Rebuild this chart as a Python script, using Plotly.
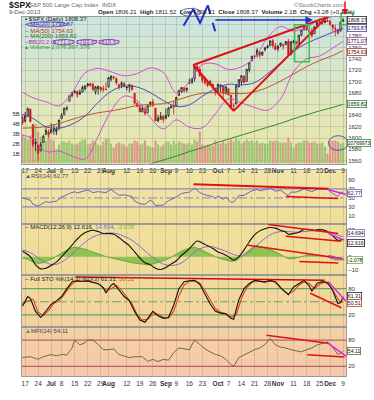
import pandas as pd
import plotly.graph_objects as go

FONT = "Liberation Sans, Arial, sans-serif"

# ---------------- data ----------------
holidays = ["2013-07-04", "2013-09-02", "2013-11-28"]
dates = [d.strftime("%Y-%m-%d") for d in pd.bdate_range("2013-06-14", "2013-12-09")
         if d.strftime("%Y-%m-%d") not in holidays]
xi = list(range(len(dates)))
prev_close = 1636.36

opens = [1636, 1630, 1639, 1651, 1624, 1590, 1588, 1577, 1592, 1606,
         1611, 1609, 1614, 1611, 1618, 1634, 1642, 1652, 1665, 1675,
         1680, 1682, 1678, 1681, 1687, 1693, 1696, 1695, 1682, 1687,
         1690, 1687, 1686, 1690, 1704, 1708, 1705, 1694, 1693, 1696,
         1689, 1690, 1693, 1679, 1661, 1655, 1646, 1651, 1645, 1659,
         1664, 1653, 1630, 1633, 1638, 1635, 1640, 1653, 1657, 1657,
         1675, 1682, 1689, 1685, 1697, 1697, 1705, 1727, 1722, 1711,
         1703, 1698, 1694, 1695, 1688, 1682, 1691, 1692, 1679, 1687,
         1676, 1657, 1660, 1691, 1699, 1709, 1700, 1720, 1737, 1745,
         1747, 1752, 1747, 1756, 1760, 1763, 1772, 1763, 1758, 1764,
         1765, 1765, 1771, 1748, 1769, 1770, 1764, 1782, 1791, 1798,
         1791, 1789, 1784, 1797, 1806, 1803, 1804, 1808, 1806, 1800,
         1794, 1792, 1789, 1806.21]
highs = [1641, 1646, 1654, 1652, 1624, 1599, 1588, 1593, 1606, 1620,
         1615, 1626, 1624, 1620, 1632, 1644, 1654, 1657, 1676, 1681,
         1685, 1684, 1686, 1693, 1693, 1697, 1698, 1698, 1692, 1692,
         1690, 1693, 1698, 1707, 1710, 1710, 1707, 1696, 1700, 1699,
         1692, 1696, 1695, 1679, 1664, 1659, 1658, 1656, 1659, 1664,
         1669, 1653, 1641, 1646, 1641, 1652, 1655, 1659, 1665, 1673,
         1685, 1690, 1690, 1689, 1705, 1706, 1729, 1730, 1725, 1711,
         1708, 1701, 1703, 1695, 1688, 1696, 1694, 1693, 1691, 1687,
         1676, 1662, 1693, 1704, 1711, 1711, 1722, 1734, 1745, 1747,
         1759, 1752, 1753, 1760, 1765, 1772, 1775, 1768, 1765, 1768,
         1767, 1771, 1775, 1771, 1773, 1772, 1782, 1791, 1799, 1803,
         1795, 1795, 1798, 1805, 1808, 1808, 1810, 1814, 1809, 1800,
         1800, 1792, 1806, 1811.52]
lows = [1623, 1627, 1639, 1628, 1584, 1577, 1560, 1577, 1592, 1606,
        1601, 1609, 1606, 1605, 1614, 1634, 1640, 1648, 1665, 1672,
        1679, 1671, 1676, 1681, 1684, 1690, 1691, 1683, 1677, 1677,
        1681, 1681, 1684, 1690, 1700, 1703, 1694, 1685, 1688, 1689,
        1684, 1681, 1684, 1659, 1655, 1646, 1646, 1640, 1645, 1655,
        1656, 1630, 1628, 1633, 1627, 1633, 1637, 1653, 1642, 1657,
        1675, 1680, 1680, 1681, 1697, 1697, 1700, 1721, 1708, 1697,
        1694, 1690, 1694, 1687, 1675, 1682, 1680, 1670, 1677, 1675,
        1655, 1647, 1660, 1689, 1693, 1697, 1700, 1716, 1735, 1740,
        1743, 1741, 1745, 1753, 1758, 1763, 1758, 1755, 1753, 1761,
        1756, 1765, 1747, 1746, 1767, 1764, 1760, 1780, 1791, 1789,
        1784, 1777, 1784, 1795, 1801, 1800, 1803, 1805, 1798, 1788,
        1780, 1783, 1789, 1806.21]
closes = [1626.73, 1639.04, 1651.81, 1628.93, 1588.19, 1592.43, 1573.09, 1588.03, 1603.26, 1613.20,
          1606.28, 1614.96, 1614.08, 1615.41, 1631.89, 1640.46, 1652.32, 1652.62, 1675.02, 1680.19,
          1682.50, 1676.26, 1680.91, 1689.37, 1692.09, 1695.53, 1692.39, 1685.94, 1690.25, 1691.65,
          1685.33, 1685.96, 1685.73, 1706.87, 1709.67, 1707.14, 1697.37, 1690.91, 1697.48, 1691.42,
          1689.47, 1694.16, 1685.39, 1661.32, 1655.83, 1646.06, 1652.35, 1642.80, 1656.96, 1663.50,
          1656.78, 1630.48, 1634.96, 1638.17, 1632.97, 1639.77, 1653.08, 1655.08, 1655.17, 1671.71,
          1683.99, 1689.13, 1683.42, 1687.99, 1697.60, 1704.76, 1725.52, 1722.34, 1709.91, 1701.84,
          1697.42, 1692.77, 1698.67, 1691.75, 1681.55, 1695.00, 1693.87, 1678.66, 1690.50, 1676.12,
          1655.45, 1656.40, 1692.56, 1703.20, 1710.14, 1698.06, 1721.54, 1733.15, 1744.50, 1744.66,
          1754.67, 1746.38, 1752.07, 1759.77, 1762.11, 1771.95, 1763.31, 1756.54, 1761.64, 1767.93,
          1762.97, 1770.49, 1747.15, 1770.61, 1771.89, 1767.69, 1782.00, 1790.62, 1798.18, 1791.53,
          1787.87, 1781.37, 1795.85, 1804.76, 1802.48, 1802.75, 1807.23, 1805.81, 1800.90, 1795.15,
          1792.81, 1785.03, 1805.09, 1808.37]
volumes_b = [2.9, 2.6, 2.4, 2.8, 3.6, 4.0, 3.2, 2.7, 2.4, 2.3,
             3.0, 2.4, 2.3, 1.3, 1.9, 2.2, 2.2, 2.1, 2.3, 2.0,
             1.9, 2.0, 2.2, 2.4, 2.4, 1.9, 2.0, 2.3, 2.1, 1.9,
             1.8, 2.2, 2.5, 2.5, 2.0, 1.6, 2.0, 2.1, 2.0, 1.9,
             1.7, 2.0, 2.0, 2.3, 2.2, 1.9, 2.0, 2.3, 1.8, 1.7,
             1.6, 2.3, 1.9, 1.7, 1.9, 2.2, 2.2, 1.9, 2.3, 2.0,
             2.2, 2.1, 2.0, 2.0, 2.1, 1.9, 2.4, 2.2, 3.2, 1.9,
             1.8, 1.9, 1.8, 1.8, 2.3, 2.0, 2.0, 2.2, 2.0, 2.2,
             2.4, 2.2, 2.5, 2.3, 2.0, 2.2, 2.4, 2.2, 2.3, 2.1,
             2.3, 2.0, 2.1, 2.0, 2.0, 2.3, 2.2, 2.3, 2.2, 2.1,
             2.1, 2.1, 2.6, 2.1, 1.6, 2.0, 2.1, 2.1, 2.3, 2.3,
             2.1, 2.1, 2.2, 2.0, 2.0, 2.1, 1.7, 1.0, 2.2, 2.3,
             2.3, 2.2, 2.0, 2.077]

ma_idx = [0, 4, 9, 14, 19, 24, 29, 34, 39, 44, 49, 54, 59, 64, 69, 74, 79, 84, 89, 94, 99, 104, 109, 114, 119, 123]
ma20 = [1642, 1634.6, 1619.9, 1617.4, 1624.4, 1638.7, 1663.0, 1682.6, 1691.8, 1690.0, 1680.3, 1666.3, 1655.8,
        1658.6, 1673.8, 1687.2, 1695.1, 1693.9, 1697.8, 1713.5, 1732.8, 1753.1, 1767.5, 1777.4, 1786.9, 1793.87]
ma50 = [1617.5, 1618.1, 1620.3, 1625.7, 1632.9, 1639.6, 1644.6, 1647.9, 1652.3, 1657.4, 1659.4, 1660.6, 1666.7,
        1673.9, 1679.2, 1680.0, 1679.5, 1678.4, 1681.6, 1689.4, 1700.6, 1713.1, 1726.2, 1736.9, 1745.8, 1754.63]
ma200 = [1485, 1491, 1498, 1505, 1512, 1519, 1526, 1533, 1540, 1547, 1554, 1561, 1568,
         1576, 1583, 1591, 1598, 1605, 1612, 1619, 1626, 1634, 1641, 1648, 1654, 1659.82]
bb_upper = [1681, 1671, 1664, 1657, 1680, 1715, 1723, 1717, 1710, 1714, 1724, 1716, 1680,
            1699, 1730, 1731, 1721, 1726, 1742, 1777, 1797, 1789, 1796, 1809, 1815, 1816.67]
bb_lower = [1605, 1599, 1576, 1577, 1568, 1563, 1603, 1648, 1674, 1666, 1636, 1616, 1632,
            1619, 1618, 1643, 1669, 1662, 1654, 1649, 1669, 1717, 1740, 1745, 1759, 1771.07]

rsi_idx = [0, 3, 4, 6, 9, 10, 13, 15, 18, 20, 21, 24, 25, 27, 29, 32, 34, 36, 37, 39, 42, 43, 45, 47, 49, 50, 51,
           54, 56, 59, 61, 64, 66, 68, 70, 73, 74, 75, 77, 78, 80, 81, 83, 85, 88, 90, 91, 94, 95, 97, 99, 102,
           103, 105, 108, 111, 113, 116, 117, 119, 121, 122, 123]
rsi_val = [50, 45, 36, 32, 42, 40, 43, 52, 60, 64, 61, 67, 68, 62, 64, 62, 69, 60, 56, 57, 53, 43, 37, 36, 45, 42, 33,
           34, 44, 52, 60, 63, 72, 62, 57, 53, 49, 54, 47, 52, 40, 41, 55, 56, 66, 69, 66, 70, 72, 65, 67, 55,
           63, 63, 70, 64, 69, 70, 69, 60, 53, 62, 62.77]

macd_idx = [0, 3, 5, 7, 9, 11, 13, 15, 17, 19, 21, 23, 25, 27, 29, 31, 33, 35, 37, 39, 41, 43, 45, 47, 49, 51, 53,
            55, 57, 59, 61, 63, 65, 67, 69, 71, 73, 75, 77, 79, 81, 83, 85, 87, 89, 91, 93, 95, 97, 99, 101, 102,
            104, 106, 108, 110, 112, 114, 116, 118, 120, 121, 122, 123]
macd_val = [4, 0, -6, -9, -8.5, -6.5, -4, 0, 4, 8.5, 13, 16.5, 18.5, 19.5, 18.5, 17, 17, 16.5, 14, 11, 8, 3.5, -1,
            -4.5, -6, -8.5, -9.5, -8, -5.5, -3, 1, 4, 8, 11.5, 10, 8, 6, 3.5, 2, 0, -2.5, 0, 5, 11, 16, 19, 20.5,
            21.5, 21, 19.5, 18, 16.5, 17, 18, 20, 20, 19.5, 20, 19.5, 17, 13.5, 12, 12.3, 12.616]
sig_idx = [0, 3, 6, 9, 12, 15, 18, 21, 24, 27, 30, 33, 36, 39, 42, 45, 48, 51, 54, 57, 60, 63, 66, 69, 72, 75, 78,
           81, 84, 87, 90, 93, 96, 99, 102, 105, 108, 111, 114, 117, 120, 123]
sig_val = [5, 3, -1, -4.5, -6, -4, 0, 5.5, 10.5, 14.5, 16.5, 17.5, 17, 15, 12, 7.5, 2.5, -2, -5.5, -6.5, -5.5, -2,
           3.5, 6.5, 7.5, 6, 4, 1.5, 0.5, 3.5, 8.5, 13.5, 17, 18.5, 18.5, 18, 18.5, 19, 19, 18.5, 16.5, 14.694]
hist_idx = [0, 2, 4, 6, 8, 10, 12, 14, 16, 18, 20, 22, 24, 26, 28, 30, 32, 34, 36, 38, 40, 42, 44, 46, 48, 50, 52,
            54, 56, 58, 60, 62, 64, 66, 68, 70, 72, 74, 76, 78, 80, 82, 84, 86, 88, 90, 92, 94, 96, 98, 100, 102,
            104, 106, 108, 110, 112, 114, 116, 118, 120, 122, 123]
hist_val = [-1, -2, -4, -5, -4.5, -3, -1, 1.5, 4, 6, 7, 6.5, 5.5, 4, 3, 1.5, 0, -1, -1.5, -3, -3.5, -4.5, -5, -5.5,
            -6, -5.5, -4.5, -3, -1.5, 1, 3, 5, 6, 7, 5.5, 3.5, 1.5, 0, -1.5, -2.5, -3.5, -3, 0, 3.5, 6.5, 8, 7,
            5.5, 4.5, 2.5, 0.5, -1.5, -1.5, -0.5, 1, 1.5, 0.5, 1, 0.5, -1, -2.5, -2.5, -2.078]

k_idx = [0, 2, 3, 5, 7, 9, 11, 13, 15, 17, 19, 21, 23, 25, 27, 29, 31, 32, 34, 35, 37, 39, 41, 43, 45, 47, 49, 50,
         52, 54, 56, 58, 60, 62, 64, 66, 68, 70, 72, 74, 76, 78, 80, 81, 83, 85, 87, 89, 91, 93, 95, 97, 99, 101,
         102, 104, 106, 108, 110, 111, 113, 115, 117, 119, 121, 122, 123]
k_val = [40, 62, 58, 28, 14, 28, 44, 52, 62, 80, 96, 98, 97, 98, 94, 92, 82, 70, 88, 92, 76, 62, 52, 28, 8, 3, 20, 28,
         18, 12, 14, 42, 80, 96, 98, 99, 90, 66, 45, 28, 24, 22, 12, 10, 55, 80, 92, 99, 97, 95, 99, 96, 82, 70,
         66, 84, 92, 99, 86, 74, 92, 96, 94, 76, 46, 48, 61.31]
d_idx = [0, 2, 4, 6, 8, 10, 12, 14, 16, 18, 20, 22, 24, 26, 28, 30, 32, 34, 36, 38, 40, 42, 44, 46, 48, 50, 52,
         54, 56, 58, 60, 62, 64, 66, 68, 70, 72, 74, 76, 78, 80, 82, 84, 86, 88, 90, 92, 94, 96, 98, 100, 102,
         104, 106, 108, 110, 112, 114, 116, 118, 120, 122, 123]
d_val = [45, 52, 56, 26, 18, 30, 46, 52, 66, 84, 96, 97, 97, 96, 93, 88, 76, 80, 88, 76, 60, 46, 20, 8, 10, 22, 22,
         14, 13, 28, 64, 88, 97, 98, 93, 76, 54, 34, 26, 23, 15, 20, 58, 82, 94, 98, 96, 96, 97, 90, 76, 68,
         74, 88, 96, 92, 80, 90, 95, 86, 66, 48, 50.51]

mfi_idx = [0, 3, 6, 8, 11, 13, 15, 17, 19, 20, 22, 24, 25, 27, 29, 31, 33, 35, 37, 39, 41, 43, 46, 48, 50, 52, 54,
           56, 58, 60, 62, 64, 66, 68, 70, 72, 74, 76, 78, 80, 81, 83, 85, 87, 89, 91, 93, 95, 97, 99, 101, 103,
           105, 107, 109, 111, 113, 115, 117, 119, 121, 123]
mfi_val = [40, 42, 36, 42, 47, 44, 47, 46, 62, 80, 69, 74, 80, 80, 70, 58, 58, 60, 47, 44, 40, 42, 42, 31, 36, 31, 36,
           34, 51, 62, 60, 58, 80, 69, 60, 53, 47, 44, 36, 24, 20, 40, 46, 53, 58, 62, 70, 84, 69, 64, 62, 58,
           55, 53, 58, 62, 69, 72, 76, 64, 47, 54.11]

tick_dates = ["2013-06-17", "2013-06-24", "2013-07-01", "2013-07-08", "2013-07-15", "2013-07-22", "2013-07-29",
              "2013-08-01", "2013-08-12", "2013-08-19", "2013-08-26", "2013-09-03", "2013-09-09", "2013-09-16",
              "2013-09-23", "2013-10-01", "2013-10-07", "2013-10-14", "2013-10-21", "2013-10-28", "2013-11-01",
              "2013-11-11", "2013-11-18", "2013-11-25", "2013-12-02", "2013-12-09"]
tick_text = ["17", "24", "<b>Jul</b>", "8", "15", "22", "29", "<b>Aug</b>", "12", "19", "26", "<b>Sep</b>", "9",
             "16", "23", "<b>Oct</b>", "7", "14", "21", "28", "<b>Nov</b>", "11", "18", "25", "<b>Dec</b>", "9"]

price_ticks = [1560, 1580, 1600, 1620, 1640, 1660, 1680, 1700, 1720, 1740, 1760, 1780, 1800]
price_tick_text = ["1560", "1580", "1600", "1620", "1640", "", "1680", "1700", "1720", "1740", "1760", "1780", ""]

# hand-drawn trend lines (x = bar number, y = panel value)
trend_lines = [
    ("x", "y2", 65.5, 1729, 119.5, 1818, "#e01010", 2),
    ("x", "y2", 65.5, 1729, 81, 1648, "#e01010", 2),
    ("x", "y2", 81, 1648, 118.5, 1822, "#e01010", 2),
    ("x2", "y3", 65.6, 80.7, 117.4, 70.5, "#e01010", 2),
    ("x2", "y3", 101, 53.2, 121.1, 48.9, "#e01010", 1.5),
    ("x2", "y3", 117.4, 68.4, 124.1, 57.6, "#e020e0", 1.5),
    ("x3", "y4", 94.3, 23.6, 121.1, 17.1, "#e01010", 1.5),
    ("x3", "y4", 101, 15, 122.3, 11.4, "#e01010", 1.5),
    ("x3", "y4", 86.1, 8.6, 122.3, -1.4, "#e01010", 1.5),
    ("x3", "y4", 106.2, -3.6, 121.1, -4.6, "#e01010", 1.5),
    ("x3", "y4", 117.4, 17.1, 123.4, 12.2, "#e020e0", 1.5),
    ("x3", "y4", 117.4, 0.9, 123.4, -2.4, "#e020e0", 1.5),
    ("x4", "y5", 20.3, 106.7, 115.9, 99.3, "#c01010", 1.5),
    ("x4", "y5", 110.4, 69.6, 122.3, 36.2, "#e01010", 1.5),
    ("x4", "y5", 117.3, 95.6, 124.1, 51.1, "#e020e0", 1.5),
    ("x5", "y6", 93.6, 91.1, 117.3, 72.7, "#e01010", 1.5),
    ("x5", "y6", 109.2, 46.7, 123.5, 41.6, "#e01010", 1.5),
    ("x5", "y6", 117.3, 72.7, 124.1, 43, "#e020e0", 1.5),
]

# ---------------- figure ----------------
W, H = 374, 400
ML, MR, MT, MB = 17, 24, 17, 13
PW, PH = W - ML - MR, H - MT - MB


def px(x):
    return (x - ML) / PW


def py(y):
    return (H - MB - y) / PH


dom_price = [py(168), 1]
dom_rsi = [py(230), py(175)]
dom_macd = [py(283), py(230)]
dom_sto = [py(337), py(283)]
dom_mfi = [0, py(337)]

tick_idx = [dates.index(d) for d in tick_dates]

fig = go.Figure()

RED_V, GREEN_V = "#d98f86", "#93c06e"
vol_colors = []
pc = prev_close
for c in closes:
    vol_colors.append(GREEN_V if c >= pc else RED_V)
    pc = c

fig.add_trace(go.Bar(x=xi, y=volumes_b, marker=dict(color=vol_colors, line=dict(width=0)), width=0.8,
                     opacity=0.9, xaxis="x", yaxis="y", hoverinfo="skip"))


def line(xs, ys, color, xa, ya, width=1, shape="linear", dash="solid"):
    fig.add_trace(go.Scatter(x=xs, y=ys, mode="lines", xaxis=xa, yaxis=ya, hoverinfo="skip",
                             line=dict(color=color, width=width, shape=shape, dash=dash)))


line(ma_idx, ma200, "#2f8a2f", "x", "y2", 1, "spline")
line(ma_idx, ma50, "#c0532e", "x", "y2", 1, "spline")
line(ma_idx, bb_upper, "#d24fd2", "x", "y2", 1, "spline")
line(ma_idx, bb_lower, "#d24fd2", "x", "y2", 1, "spline")
line(ma_idx, ma20, "#5046c0", "x", "y2", 1, "spline")

fig.add_trace(go.Candlestick(x=xi, open=opens, high=highs, low=lows, close=closes, xaxis="x", yaxis="y2",
                             whiskerwidth=0, hoverinfo="skip",
                             increasing=dict(line=dict(color="#111111", width=0.8), fillcolor="white"),
                             decreasing=dict(line=dict(color="#d01818", width=0.8), fillcolor="#d01818")))

# RSI
line(rsi_idx, rsi_val, "#6a62c0", "x2", "y3", 1)
# MACD
fig.add_trace(go.Scatter(x=hist_idx, y=hist_val, mode="lines", fill="tozeroy", fillcolor="rgba(128,190,70,0.85)",
                         line=dict(color="#4f8f2f", width=0.7), xaxis="x3", yaxis="y4", hoverinfo="skip"))
line(sig_idx, sig_val, "#8a6ad8", "x3", "y4", 1, "spline")
line(macd_idx, macd_val, "#111111", "x3", "y4", 1.1, "spline")
# Full STO
line(d_idx, d_val, "#e0401e", "x4", "y5", 1.1)
line(k_idx, k_val, "#111111", "x4", "y5", 1.1)
# MFI
line(mfi_idx, mfi_val, "#6f6a3c", "x5", "y6", 1)

# ---------------- axes ----------------
GRID = "rgba(110,110,110,0.22)"
xcommon = dict(range=[-0.2, 124.1], tickvals=tick_idx, ticktext=tick_text, tickangle=0, showgrid=True,
               gridcolor=GRID, gridwidth=1, zeroline=False, showline=True, mirror=True, linecolor="#9a9a9a",
               linewidth=1, ticks="", ticklabelstandoff=1,
               tickfont=dict(size=6.5, color="#333", family=FONT), fixedrange=True)
ycommon = dict(zeroline=False, showline=True, mirror=True, linecolor="#9a9a9a", linewidth=1, ticks="",
               side="right", tickfont=dict(size=6, color="#333", family=FONT), showgrid=False, fixedrange=True)

fig.update_layout(
    width=W, height=H, margin=dict(l=ML, r=MR, t=MT, b=MB), paper_bgcolor="white", plot_bgcolor="#efe0a0",
    showlegend=False, font=dict(family=FONT, size=6.5, color="#333"),
    xaxis=dict(xcommon, anchor="y", domain=[0, 1], showticklabels=True, rangeslider=dict(visible=False)),
    xaxis2=dict(xcommon, anchor="y3", matches="x", showticklabels=False),
    xaxis3=dict(xcommon, anchor="y4", matches="x", showticklabels=False),
    xaxis4=dict(xcommon, anchor="y5", matches="x", showticklabels=False),
    xaxis5=dict(xcommon, anchor="y6", matches="x", showticklabels=True),
    yaxis=dict(ycommon, domain=dom_price, anchor="x", side="left", range=[0, 14.66], tickvals=[1, 2, 3, 4, 5],
               ticktext=["1B", "2B", "3B", "4B", "5B"]),
    yaxis2=dict(ycommon, overlaying="y", anchor="x", range=[1554.9, 1813.9],
                tickvals=price_ticks, ticktext=price_tick_text, showgrid=True, gridcolor=GRID),
    yaxis3=dict(ycommon, domain=dom_rsi, anchor="x2", range=[-7.3, 111.6], tickvals=[10, 30, 50, 70, 90]),
    yaxis4=dict(ycommon, domain=dom_macd, anchor="x3", range=[-13.6, 24.3], tickvals=[-10, 0, 20]),
    yaxis5=dict(ycommon, domain=dom_sto, anchor="x4", range=[-8.9, 111.1], tickvals=[20, 80]),
    yaxis6=dict(ycommon, domain=dom_mfi, anchor="x5", range=[-2.2, 108.9], tickvals=[20, 80]),
)

# ---------------- backgrounds (vertical gradients) ----------------
shapes = []


def grad(xd, yd, top, bottom, n):
    for k in range(n):
        t = (k + 0.5) / n
        col = "rgb(%d,%d,%d)" % tuple(round(b + (a - b) * t) for a, b in zip(top, bottom))
        shapes.append(dict(type="rect", xref=xd, yref=yd, x0=0, x1=1, y0=k / n, y1=(k + 1) / n + 0.002,
                           fillcolor=col, line=dict(width=0), layer="below"))


grad("x domain", "y domain", (203, 229, 224), (236, 232, 166), 24)
grad("x2 domain", "y3 domain", (240, 229, 168), (240, 223, 154), 8)
grad("x3 domain", "y4 domain", (240, 224, 156), (241, 219, 152), 8)
grad("x4 domain", "y5 domain", (241, 219, 154), (244, 208, 160), 8)
grad("x5 domain", "y6 domain", (244, 207, 163), (246, 200, 172), 8)


def hline(xd, ya, v, color, dash="solid", width=1.2):
    shapes.append(dict(type="line", xref=xd, yref=ya, x0=0, x1=1, y0=v, y1=v,
                       line=dict(color=color, width=width, dash=dash), layer="below"))


hline("x2 domain", "y3", 70, "#8e88b8")
hline("x2 domain", "y3", 30, "#8e88b8")
hline("x2 domain", "y3", 50, "#8e88b8", "dashdot", 1)
hline("x4 domain", "y5", 80, "#63a863")
hline("x4 domain", "y5", 20, "#63a863")
hline("x4 domain", "y5", 50, "#63a863", "dashdot", 1)
hline("x5 domain", "y6", 80, "#b86262")
hline("x5 domain", "y6", 20, "#b86262")

for (xa, ya, x0, y0, x1, y1, col, w) in trend_lines:
    shapes.append(dict(type="line", xref=xa, yref=ya, x0=x0, y0=y0, x1=x1, y1=y1,
                       line=dict(color=col, width=w), layer="above"))

# green boxes, blue ellipse
shapes.append(dict(type="rect", xref="x", yref="y2", x0=104.4, x1=110, y0=1735, y1=1800,
                   line=dict(color="#3cc24a", width=1.5), layer="above"))
shapes.append(dict(type="rect", xref="paper", yref="paper", x0=px(345), x1=px(357), y0=py(25), y1=py(13),
                   line=dict(color="#3cc24a", width=1.5), layer="above"))
shapes.append(dict(type="circle", xref="paper", yref="y", x0=px(332), x1=px(352), y0=1.32, y1=2.78,
                   line=dict(color="#5050c0", width=1), layer="above"))
# header zigzag
zz = [(183, 26), (193, 9), (200, 23), (208, 5)]
path = "M " + " L ".join("%f,%f" % (px(a), py(b)) for a, b in zz)
shapes.append(dict(type="path", xref="paper", yref="paper", path=path, line=dict(color="#1a2ec8", width=2)))
shapes.append(dict(type="line", xref="paper", yref="paper", x0=px(208), y0=py(5), x1=px(217), y1=py(37),
                   line=dict(color="#1a2ec8", width=2, dash="dash")))
# ovals around legend values
for (a, b, c, d, col) in [(21.5, 22, 63.5, 27.3, "#6a52c8"), (49, 40.2, 71, 45.6, "#6a52c8"),
                          (73, 40.2, 94, 45.6, "#6a52c8"), (96, 40.2, 117, 45.6, "#6a52c8"),
                          (180, 8.2, 201, 16.2, "#5a6aa0")]:
    shapes.append(dict(type="circle", xref="paper", yref="paper", x0=px(a), x1=px(c), y0=py(d), y1=py(b),
                       line=dict(color=col, width=1)))

fig.update_layout(shapes=shapes)

# ---------------- texts ----------------
ann = []


def txt(x, y, s, size=6, color="#333", anchor="left", bold=False):
    ann.append(dict(xref="paper", yref="paper", x=px(x), y=py(y), text=("<b>%s</b>" % s) if bold else s,
                    showarrow=False, xanchor=anchor, yanchor="middle",
                    font=dict(size=size, color=color, family=FONT)))


txt(1.5, 5, "$SPX", 8.5, "#111", bold=True)
txt(22, 5, "S&P 500 Large Cap Index  INDX", 6, "#666")
txt(1.5, 12.3, "9-Dec-2013", 6, "#555")
txt(294, 5, "©StockCharts.com", 6, "#777")
txt(93, 12.3, "<b>Open</b> 1806.21  <b>High</b> 1811.52  <b>Low</b> 1806.21  <b>Close</b> 1808.37  "
              "<b>Volume</b> 2.1B  <b>Chg</b> +3.28 (+0.18%)", 6, "#222")

# price legend
txt(18.5, 19.2, "<span style='color:#222'>▪</span> $SPX (Daily) 1808.37", 6, "#222")
txt(18.5, 24.6, "− MA(20) 1793.87", 6, "#3a32b0")
txt(18.5, 31.2, "− MA(50) 1754.63", 6, "#c02c20")
txt(18.5, 36.8, "− MA(200) 1659.82", 6, "#237523")
txt(18, 42.9, "−BB(20,2.0)", 5.8, "#b226b2")
txt(60, 42.9, "1771.07", 6, "#b226b2", "center")
txt(83.5, 42.9, "1793.87", 6, "#b226b2", "center")
txt(106.5, 42.9, "1816.67", 6, "#b226b2", "center")
txt(18.5, 48.2, "▴ Volume 2,076,997,376", 6, "#2e9a2e")

# indicator legends
txt(18.5, 180.8, "<span style='color:#3050c0'>▲</span>RSI(14) 62.77", 6, "#404060")
txt(18.5, 233.5, "− MACD(12,26,9) 12.616, <span style='color:#8a6ad8'>14.694</span>, "
                 "<span style='color:#70b040'>-2.078</span>", 6, "#222")
txt(18.5, 287.3, "− Full STO %K(14,3) %D(3) 61.31, <span style='color:#e0401e'>50.51</span>", 6, "#222")
txt(18.5, 340.5, "<span style='color:#3a9a3a'>▲</span>MFI(14) 54.11", 6, "#404040")


def tag(ya, v, s, border, color="#111", yshift=0, size=5.2):
    ann.append(dict(xref="paper", yref=ya, x=1, y=v, text=s, showarrow=False, xanchor="left", yanchor="middle",
                    xshift=1, yshift=yshift, bgcolor="white", bordercolor=border, borderwidth=0.8, borderpad=0,
                    font=dict(size=size, color=color, family=FONT)))


tag("y2", 1808.37, "1808.37", "#222")
tag("y2", 1793.87, "1793.87", "#4a42c0")
tag("y2", 1771.07, "1771.07", "#c040c0")
tag("y2", 1754.63, "1754.63", "#c03a2a", yshift=-1.5)
tag("y2", 1659.82, "1659.82", "#2f8a2f")
tag("y", 2.077, "20769973", "#2e9a2e", size=5)
tag("y3", 62.77, "62.77", "#6a62c0", yshift=-0.5)
tag("y4", 14.694, "14.694", "#8a6ad8", yshift=3.6)
tag("y4", 12.616, "12.616", "#222", yshift=-3.6)
tag("y4", -2.078, "-2.078", "#70b040", yshift=-1)
tag("y5", 61.31, "61.31", "#222", yshift=1.2)
tag("y5", 50.51, "50.51", "#e0401e", yshift=-1.2)
tag("y6", 54.11, "54.11", "#6f6a3c")

# arrows
ann.append(dict(xref="paper", yref="paper", x=px(316), y=py(20), ax=-99, ay=0, text="", showarrow=True,
                arrowhead=2, arrowsize=1, arrowwidth=1.5, arrowcolor="#1a2ec8"))
ann.append(dict(xref="paper", yref="paper", x=px(349), y=py(15), ax=0, ay=-15, text="", showarrow=True,
                arrowhead=2, arrowsize=0.8, arrowwidth=1.5, arrowcolor="#e01010"))

fig.update_layout(annotations=ann)

fig.write_html("out.html")
